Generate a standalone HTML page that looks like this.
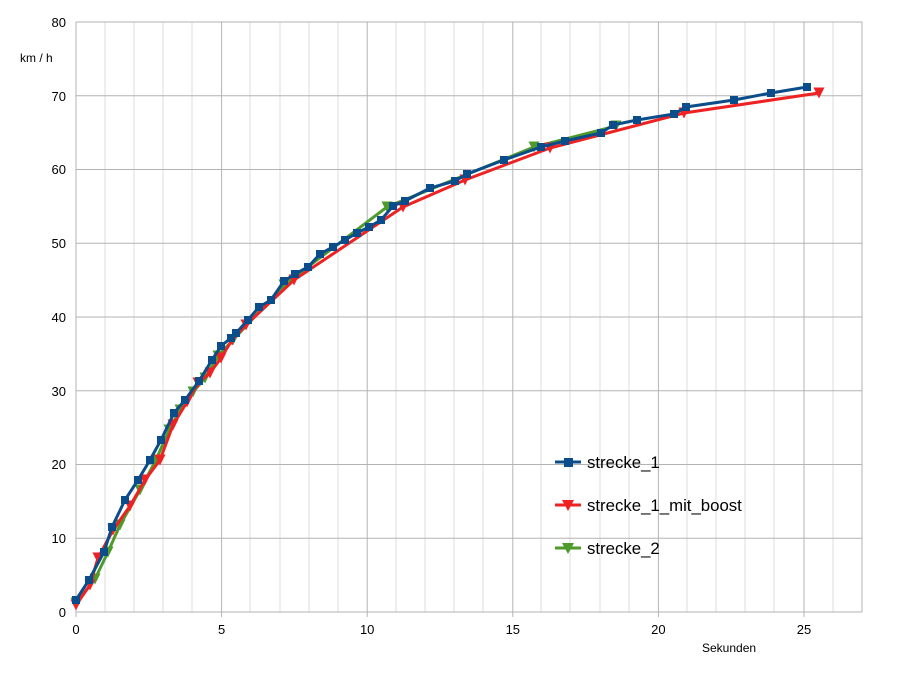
<!DOCTYPE html><html><head><style>body{margin:0;background:#fff}svg{font-family:"Liberation Sans",sans-serif}</style></head><body>
<svg width="901" height="688" xmlns="http://www.w3.org/2000/svg">
<g stroke="#dddddd" stroke-width="1">
<path d="M105 22V612M134 22V612M163 22V612M192 22V612M250 22V612M280 22V612M309 22V612M338 22V612M396 22V612M425 22V612M454 22V612M483 22V612M541 22V612M570 22V612M600 22V612M629 22V612M687 22V612M716 22V612M745 22V612M774 22V612M833 22V612"/>
</g>
<g stroke="#b3b3b3" stroke-width="1">
<path d="M76 22H862M76 95.7H862M76 169.5H862M76 243.2H862M76 317H862M76 390.7H862M76 464.5H862M76 538.2H862M76 612H862"/>
<path d="M76 22V617M221.6 22V617M367.2 22V617M512.8 22V617M658.4 22V617M804 22V617M862 22V612"/>
</g>
<g font-size="13" fill="#000" text-anchor="end">
<text x="66" y="617">0</text><text x="66" y="543">10</text><text x="66" y="469">20</text><text x="66" y="396">30</text><text x="66" y="322">40</text><text x="66" y="248">50</text><text x="66" y="174">60</text><text x="66" y="101">70</text><text x="66" y="27">80</text>
</g>
<g font-size="13" fill="#000" text-anchor="middle">
<text x="76" y="634">0</text><text x="221.6" y="634">5</text><text x="367.2" y="634">10</text><text x="512.8" y="634">15</text><text x="658.4" y="634">20</text><text x="804" y="634">25</text>
</g>
<text x="20" y="62" font-size="12">km / h</text>
<text x="702" y="652" font-size="12">Sekunden</text>
<defs>
<marker id="g" viewBox="0 0 10 10" refX="5" refY="5" markerWidth="11" markerHeight="11" markerUnits="userSpaceOnUse"><path d="M0 0H10L5 10Z" fill="#4e9a2a"/></marker>
<marker id="r" viewBox="0 0 10 10" refX="5" refY="5" markerWidth="11" markerHeight="11" markerUnits="userSpaceOnUse"><path d="M0 0H10L5 10Z" fill="#ee2222"/></marker>
<marker id="b" viewBox="0 0 8 8" refX="4" refY="4" markerWidth="8" markerHeight="8" markerUnits="userSpaceOnUse"><rect width="8" height="8" fill="#0b4c8a"/></marker>
</defs>
<polyline fill="none" stroke="#4e9a2a" stroke-width="3" marker-start="url(#g)" marker-mid="url(#g)" marker-end="url(#g)" points="76,603 95,579 108,552 120,525 140,490 156,460 169,430 180,410 193,392 205,378 218,356 233,340 284,285 387,207 534,147 616,126"/>
<polyline fill="none" stroke="#ee2222" stroke-width="3" marker-start="url(#r)" marker-mid="url(#r)" marker-end="url(#r)" points="76,605 90,585 98,558 113,530 130,506 145,480 160,460 173,425 187,402 198,383 210,373 221,358 232,340 246,325 294,280 403,207 465,180 550,148 684,113 819,93"/>
<polyline fill="none" stroke="#0b4c8a" stroke-width="3" marker-start="url(#b)" marker-mid="url(#b)" marker-end="url(#b)" points="76,600 89,580 104,552 112,527 125,500 138,480 150,460 161,440 174,413 185,400 199,381 212,360 221,346 231,338 236,333 248,320 259,307 271,300 284,281 295,274 308,267 320,254 333,247 345,240 357,233 369,227 381,220 393,206 405,201 430,188 455,181 467,174 504,160 541,147 565,141 601,133 613,125 637,120 674,114 686,107 734,100 771,93 807,87"/>
<g font-size="16.8" fill="#000">
<path d="M555 462H581" stroke="#0b4c8a" stroke-width="3"/><rect x="564" y="458" width="9" height="9" fill="#0b4c8a"/><text x="587" y="468">strecke_1</text>
<path d="M555 505H581" stroke="#ee2222" stroke-width="3"/><path d="M562 500H574L568 511Z" fill="#ee2222"/><text x="587" y="511">strecke_1_mit_boost</text>
<path d="M555 548H581" stroke="#4e9a2a" stroke-width="3"/><path d="M562 543H574L568 554Z" fill="#4e9a2a"/><text x="587" y="554">strecke_2</text>
</g>
</svg></body></html>
